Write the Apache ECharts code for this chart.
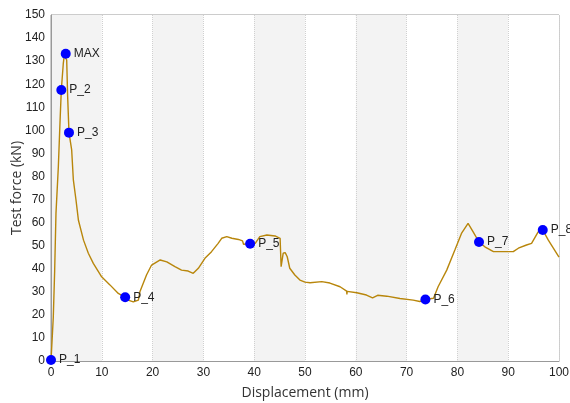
<!DOCTYPE html>
<html>
<head>
<meta charset="utf-8">
<script src="https://cdn.jsdelivr.net/npm/echarts@6/dist/echarts.min.js"></script>
<style>html,body{margin:0;padding:0;background:#fff;}#c{width:570px;height:403px;}</style>
</head>
<body>
<div id="c"></div>
<script>
const displacement = [0,0.2,0.45,0.72,0.98,1.44,1.8,2.03,2.42,2.62,2.9,3.09,3.28,3.54,4.07,4.4,4.92,5.4,6.4,7.35,8.33,9.97,11.6,13.25,14.6,15.2,16.2,17.2,17.5,18.8,19.8,21.5,22.8,24.4,25.7,27.0,28.0,29.0,30.3,31.6,32.9,33.6,34.6,35.6,36.9,37.7,37.9,39.2,40.2,41.1,42.5,44.1,45.1,45.3,45.7,46.1,46.5,47.0,48.0,49.0,50.0,51,53.3,54.9,56.9,58.2,58.25,58.3,60.2,62.1,63.3,64.3,66.1,68.7,71.3,72.6,73.7,75.3,76.2,77.9,79.5,80.8,82.1,83.1,84.25,85.4,87.1,88.7,91.0,92.0,93.6,94.6,95.9,96.8,97.9,100];
const force = [0,0.5,19,39,64,84,105,117.5,129,132.6,133.2,130.5,114.6,99,91.5,78.5,69.8,61,52.4,46.7,42.3,36.5,33,29.3,27.6,26.4,25.6,26.4,30,37.3,41.6,43.8,43,40.9,39.4,39,38,40.2,44.5,47.4,51,53.2,53.9,53.2,52.7,52.1,50.6,50.8,51,53.9,54.6,54.2,53.2,40.9,46.7,47,45.2,40.2,37.3,35.1,34.2,33.9,34.4,33.8,32.2,30.3,28.8,30.2,29.6,28.6,27.4,28.5,28.1,27.1,26.4,25.8,26.7,27.2,32.2,39.4,48.1,55.3,59.7,56,51.6,49.5,47.4,47.4,47.4,48.9,50.3,51,56,56.8,52.4,45];
const pointNames = ['P_1','MAX','P_2','P_3','P_4','P_5','P_6','P_7','P_8'];
const pointX = [0,2.9,2.03,3.54,14.6,39.2,73.7,84.25,96.8];
const pointY = [0.4,133.2,117.5,99,27.6,50.8,26.7,51.6,56.8];
const xTicks = [0,10,20,30,40,50,60,70,80,90,100];
const yTicks = [0,10,20,30,40,50,60,70,80,90,100,110,120,130,140,150];

const curve = displacement.map((d,i)=>[d, force[i]]);
const pts = pointNames.map((n,i)=>({name:n, value:[pointX[i], pointY[i]]}));

const chart = echarts.init(document.getElementById('c'));
chart.setOption({
  animation:false,
  grid:{left:51,right:11,top:15,bottom:42,show:true,borderColor:'#999',borderWidth:1,backgroundColor:'transparent',containLabel:false,outerBoundsMode:'none'},
  xAxis:{
    type:'value',min:xTicks[0],max:xTicks[xTicks.length-1],interval:10,
    name:'Displacement (mm)',nameLocation:'middle',nameGap:25,nameMoveOverlap:false,
    nameTextStyle:{fontFamily:'Open Sans',fontSize:14,color:'#333'},
    axisLine:{show:true,lineStyle:{color:'#999'}},
    axisTick:{show:false},
    axisLabel:{fontFamily:'Liberation Sans',fontSize:12,color:'#222',margin:6},
    splitLine:{show:true,lineStyle:{color:'#d0d0d0',type:'dotted'}},
    splitArea:{show:true,areaStyle:{color:['#f3f3f3','#ffffff']}}
  },
  yAxis:{
    type:'value',min:yTicks[0],max:yTicks[yTicks.length-1],interval:10,
    name:'Test force (kN)',nameLocation:'middle',nameGap:27,nameRotate:90,nameMoveOverlap:false,
    nameTextStyle:{fontFamily:'Open Sans',fontSize:14,color:'#333'},
    axisLine:{show:true,lineStyle:{color:'#999'}},
    axisTick:{show:false},
    axisLabel:{fontFamily:'Liberation Sans',fontSize:12,color:'#222',margin:6},
    splitLine:{show:true,lineStyle:{color:'#d0d0d0',type:'dotted'}}
  },
  series:[
    {type:'line',data:curve,showSymbol:false,symbol:'none',smooth:false,
     lineStyle:{color:'#b8860b',width:1.4},z:2},
    {type:'scatter',data:pts,symbol:'circle',symbolSize:10,
     itemStyle:{color:'#0000ff',opacity:1},z:3,
     label:{show:true,position:'right',distance:3,formatter:'{b}',
       fontFamily:'Liberation Sans',fontSize:12,color:'#222'}}
  ]
});
</script>
</body>
</html>
